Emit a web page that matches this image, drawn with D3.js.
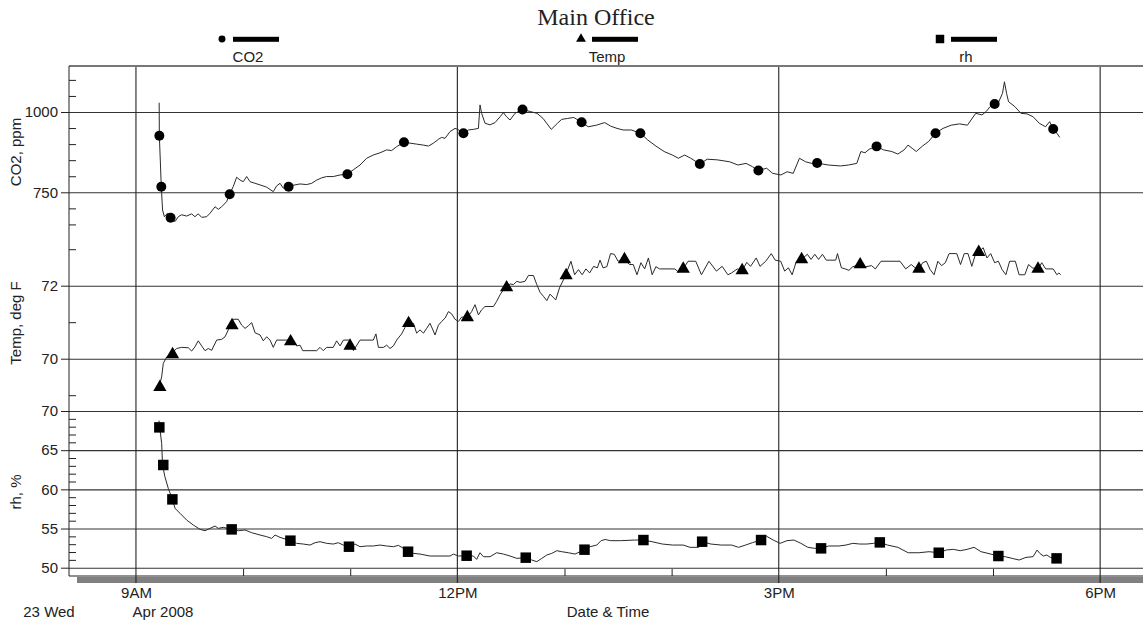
<!DOCTYPE html>
<html><head><meta charset="utf-8">
<script src="https://cdn.jsdelivr.net/npm/d3@7"></script>
<style>
html,body{margin:0;padding:0;background:#fff;}
svg{display:block;}
text{font-family:"Liberation Sans",Arial,sans-serif;fill:#222;}
</style></head>
<body>
<svg id="c" width="1143" height="621"></svg>
<script>
// ---- data (time = minutes after 9:00 AM, 23 Apr 2008) ----
const title = "Main Office";
const seriesNames = ["CO2", "Temp", "rh"];
const axisTitles = ["CO2, ppm", "Temp, deg F", "rh, %"];
const xTickHours = [9, 12, 15, 18];
const xTickLabels = ["9AM", "12PM", "3PM", "6PM"];
const xMinorHours = [10, 11, 13, 14, 16, 17];
const dateLabels = ["23 Wed", "Apr 2008", "Date & Time"];
const co2Ticks = [750, 1000];
const co2Minor = [650, 700, 800, 850, 900, 950, 1050, 1100];
const tempTicks = [70, 72];
const tempMinor = [69, 71, 73];
const rhTicks = [50, 55, 60, 65, 70];
const rhMinor = [51,52,53,54,56,57,58,59,61,62,63,64,66,67,68,69];

const co2Line = [[13.0,1029],[13.1,926],[14.2,767],[14.9,695],[15.9,674],[17.7,685],[19.4,671],[21.9,659],[23.7,674],[25.6,680],[28.4,676],[31.2,683],[33.0,674],[34.9,683],[36.8,672],[39.6,674],[41.5,685],[44.3,705],[46.1,697],[48.0,705],[50.8,721],[52.5,744],[54.5,768],[56.4,797],[58.3,788],[60.1,783],[62.0,799],[63.9,783],[66.7,778],[69.5,773],[73.2,766],[76.9,752],[78.8,770],[80.7,778],[82.5,763],[85.5,767],[88.1,772],[91.9,776],[95.6,774],[98.4,778],[101.2,788],[104.0,795],[106.8,799],[110.5,799],[114.3,804],[118.4,806],[121.7,820],[125.5,835],[129.2,856],[132.9,866],[136.7,873],[140.4,882],[143.2,880],[146.0,892],[150.1,906],[153.5,903],[157.2,900],[160.9,897],[163.8,894],[166.6,903],[169.4,915],[171.2,921],[173.1,918],[175.9,939],[178.7,949],[180.2,946],[183.4,934],[186.2,944],[189.0,946],[191.8,949],[192.7,1022],[193.6,996],[195.5,965],[198.3,960],[201.1,967],[203.9,985],[205.8,998],[207.6,985],[209.5,975],[212.3,996],[216.5,1008],[221.1,1001],[224.6,996],[228.0,980],[232.6,946],[236.1,965],[238.4,977],[241.8,980],[245.2,983],[249.6,968],[253.3,954],[257.9,959],[262.5,967],[265.9,956],[269.4,949],[272.8,944],[277.4,944],[282.5,934],[286.6,913],[291.2,894],[295.8,877],[300.4,866],[303.8,856],[307.3,866],[310.7,856],[315.8,838],[319.9,853],[325.6,851],[332.5,845],[337.1,835],[341.7,840],[345.2,830],[348.6,818],[353.2,825],[356.6,809],[361.2,804],[364.7,814],[368.1,809],[371.6,856],[375.0,845],[378.5,840],[381.5,841],[387.7,835],[394.5,832],[399.1,835],[403.7,840],[406.0,877],[408.3,873],[410.6,884],[414.8,893],[418.7,882],[423.3,877],[426.7,869],[430.2,882],[432.4,897],[434.7,887],[437.0,877],[440.5,894],[443.9,908],[447.8,934],[452.0,949],[456.6,959],[461.2,963],[465.7,959],[470.3,996],[473.8,991],[476.1,1001],[478.4,1017],[480.9,1025],[483.0,1029],[485.3,1058],[486.4,1094],[487.6,1058],[488.7,1032],[492.2,1017],[495.6,996],[499.1,994],[502.5,985],[505.9,965],[509.4,954],[511.7,970],[513.7,947],[515.1,939],[517.4,921]];
const co2Marks = [[13.1,926],[14.2,767],[19.4,671],[52.5,744],[85.5,767],[118.4,806],[150.1,906],[183.4,934],[216.5,1008],[249.6,968],[282.5,934],[315.8,838],[348.6,818],[381.5,841],[414.8,893],[447.8,934],[480.9,1025],[513.7,947]];

const tempLine = [[13.4,69.32],[14.4,69.50],[15.3,69.87],[17.2,70.05],[20.0,70.14],[22.8,70.28],[25.6,70.31],[29.3,70.30],[31.2,70.21],[33.1,70.33],[34.9,70.49],[36.8,70.35],[38.7,70.22],[40.5,70.28],[42.4,70.23],[45.2,70.51],[48.0,70.53],[49.9,70.60],[51.7,70.79],[54.5,71.08],[57.3,71.08],[59.2,70.92],[61.1,70.83],[62.9,70.90],[64.8,70.99],[66.7,70.71],[69.5,70.65],[71.3,70.49],[73.2,70.60],[75.1,70.51],[76.9,70.31],[78.8,70.51],[84.4,70.51],[88.1,70.51],[90.0,70.35],[91.9,70.37],[93.4,70.22],[101.2,70.22],[103.1,70.31],[104.9,70.22],[106.8,70.31],[110.5,70.31],[112.4,70.49],[114.3,70.35],[116.2,70.51],[119.9,70.51],[121.8,70.22],[125.5,70.51],[132.9,70.51],[134.4,70.68],[135.8,70.31],[138.6,70.31],[140.4,70.37],[142.3,70.28],[144.2,70.35],[146.0,70.51],[148.8,70.68],[150.7,70.86],[152.7,70.97],[155.4,70.97],[157.2,70.70],[159.1,70.79],[161.0,70.70],[162.8,70.83],[164.7,70.97],[167.5,70.65],[169.4,70.92],[171.2,71.02],[173.1,71.11],[175.0,71.29],[176.8,71.23],[178.7,71.08],[180.6,71.02],[182.4,71.14],[185.6,71.13],[188.0,71.29],[189.9,71.48],[191.8,71.20],[193.6,71.34],[195.5,71.43],[200.2,71.43],[202.0,71.57],[203.9,71.75],[205.8,71.89],[207.6,71.95],[209.5,72.05],[211.4,72.03],[213.3,72.12],[215.1,72.09],[217.9,72.12],[219.8,72.28],[222.6,72.28],[224.5,72.03],[226.3,71.82],[228.2,71.71],[230.1,71.59],[231.9,71.77],[235.1,71.61],[237.2,71.94],[240.4,72.26],[243.6,72.67],[245.7,72.30],[247.8,72.44],[249.9,72.30],[252.0,72.46],[254.1,72.35],[256.3,72.53],[258.4,72.49],[259.9,72.70],[261.6,72.49],[263.7,72.52],[265.8,72.88],[267.9,72.86],[270.0,72.67],[273.6,72.72],[276.4,72.58],[278.5,72.58],[280.6,72.30],[282.8,72.63],[284.9,72.46],[287.0,72.76],[289.1,72.30],[291.2,72.52],[293.3,72.46],[301.8,72.46],[303.9,72.37],[306.5,72.46],[309.2,72.67],[313.5,72.67],[316.7,72.30],[320.9,72.67],[325.1,72.40],[328.3,72.53],[331.5,72.30],[333.6,72.35],[336.8,72.46],[339.5,72.42],[342.1,72.64],[344.2,72.53],[347.4,72.76],[349.5,72.53],[352.7,72.67],[355.8,72.88],[358.0,72.70],[361.1,72.67],[363.3,72.40],[365.4,72.49],[367.5,72.30],[369.6,72.63],[372.8,72.72],[376.0,72.86],[378.1,72.72],[380.2,72.86],[382.3,72.72],[384.5,72.86],[386.6,72.70],[391.9,72.70],[392.9,72.88],[395.1,72.49],[397.2,72.46],[399.3,72.42],[401.4,72.52],[405.6,72.58],[408.8,72.52],[412.0,72.55],[414.1,72.46],[417.3,72.67],[427.9,72.67],[431.1,72.46],[434.2,72.58],[436.4,72.49],[438.5,72.46],[440.6,72.63],[442.7,72.67],[444.8,72.44],[447.0,72.30],[449.1,72.67],[451.2,72.55],[453.3,72.63],[455.4,72.88],[459.7,72.88],[461.8,72.58],[463.9,72.88],[466.0,72.88],[468.1,72.53],[470.3,72.88],[471.9,72.92],[474.5,73.04],[476.6,72.76],[478.7,72.88],[480.9,72.63],[483.0,72.67],[485.1,72.44],[487.2,72.30],[489.3,72.67],[492.5,72.67],[494.6,72.30],[497.8,72.30],[499.9,72.58],[502.0,72.49],[505.2,72.46],[507.3,72.63],[509.5,72.46],[513.7,72.46],[515.8,72.30],[516.9,72.35],[517.9,72.30]];
const tempMarks = [[13.4,69.22],[20.5,70.12],[53.8,70.91],[86.6,70.47],[119.9,70.35],[152.7,70.97],[185.6,71.13],[207.6,71.95],[240.9,72.28],[273.6,72.72],[306.5,72.46],[339.5,72.42],[372.8,72.72],[405.6,72.58],[438.5,72.46],[472.0,72.92],[505.2,72.46]];

const rhLine = [[12.9,68.77],[13.3,67.91],[14.4,65.87],[14.9,63.11],[16.2,61.62],[18.1,60.13],[20.4,58.72],[21.9,57.57],[24.7,56.94],[28.4,56.08],[32.1,55.45],[35.9,54.89],[38.7,54.72],[41.5,55.02],[44.3,55.32],[46.1,55.02],[48.9,55.15],[53.6,54.89],[57.3,54.72],[61.1,54.81],[64.8,54.47],[69.5,54.17],[73.2,53.96],[76.0,53.74],[77.9,54.17],[80.7,53.87],[86.5,53.45],[90.0,53.11],[93.7,53.02],[97.5,52.89],[100.3,53.19],[103.1,53.32],[106.8,53.11],[110.5,53.02],[113.3,53.19],[116.1,52.89],[119.3,52.68],[122.7,53.02],[125.5,52.68],[129.2,52.77],[132.9,52.77],[136.7,52.89],[140.4,52.77],[144.2,52.68],[147.0,52.85],[149.8,52.47],[152.4,52.04],[155.4,51.83],[159.1,51.74],[164.7,51.49],[170.3,51.49],[175.9,51.49],[177.8,51.74],[180.6,51.49],[185.2,51.53],[189.0,51.49],[190.8,51.06],[192.7,51.91],[194.6,51.40],[198.3,51.40],[202.0,51.91],[205.8,51.74],[209.5,51.49],[213.3,51.19],[218.3,51.28],[221.7,50.98],[224.5,50.77],[227.3,51.19],[230.1,51.62],[232.9,51.83],[235.7,52.17],[238.5,52.04],[242.2,51.91],[245.9,51.74],[251.2,52.30],[254.3,52.68],[258.1,52.89],[260.5,53.45],[262.8,53.60],[265.7,53.45],[271.5,53.45],[279.3,53.53],[284.2,53.53],[289.0,53.32],[294.8,53.02],[300.6,52.89],[306.5,52.89],[310.3,52.60],[315.2,52.60],[317.1,53.32],[322.0,53.02],[327.8,52.89],[333.6,52.89],[337.5,52.60],[341.4,52.89],[345.2,53.19],[350.1,53.53],[353.0,54.04],[356.9,53.53],[360.8,53.11],[364.6,53.45],[368.5,53.53],[372.4,53.11],[376.3,52.60],[380.2,52.47],[383.7,52.47],[387.9,52.77],[393.7,52.77],[397.6,52.89],[401.5,53.11],[405.4,53.02],[409.3,53.02],[413.1,53.11],[416.6,53.23],[420.9,52.89],[426.7,52.60],[432.5,51.91],[438.4,51.91],[444.2,52.04],[449.6,51.91],[453.9,52.26],[457.8,52.34],[461.6,52.17],[465.5,52.34],[469.4,52.60],[473.3,52.04],[477.2,51.83],[483.0,51.49],[486.9,51.40],[490.7,51.19],[494.6,50.98],[498.5,51.32],[502.4,51.40],[504.7,52.26],[506.2,51.83],[508.2,51.49],[510.1,51.62],[512.1,51.32],[515.6,51.19],[516.9,50.98]];
const rhMarks = [[13.1,67.91],[15.3,63.11],[20.4,58.72],[53.6,54.89],[86.5,53.45],[119.3,52.68],[152.4,52.04],[185.2,51.53],[218.3,51.28],[251.2,52.30],[284.2,53.53],[317.1,53.32],[350.1,53.53],[383.7,52.47],[416.6,53.23],[449.6,51.91],[483.0,51.49],[515.6,51.19]];

// ---- scales ----
const base = new Date(2008, 3, 23, 9, 0, 0).getTime();
const tm = m => new Date(base + m * 60000);
const th = h => new Date(2008, 3, 23, h, 0, 0);
const L = 69, R = 1143, TOP = 66, BOT = 576;
const x = d3.scaleTime().domain([new Date(2008,3,23,8,22,30), new Date(2008,3,23,18,24,0)]).range([L, R]);
const yC = d3.scaleLinear().domain([750, 1000]).range([192.3, 112]);
const yT = d3.scaleLinear().domain([70, 72]).range([358.7, 285.7]);
const yH = d3.scaleLinear().domain([50, 70]).range([567.7, 411]);

const svg = d3.select("#c");
const FS = "15px";

// gray shadow bar under x axis
svg.append("rect").attr("x", 77).attr("y", 577).attr("width", R - 77).attr("height", 6).attr("fill", "#808080");

// horizontal gridlines + major ticks + labels
function yAxis(scale, ticks, minor) {
  const g = svg.append("g").attr("transform", `translate(${L},0)`);
  g.call(d3.axisLeft(scale).tickValues(ticks).tickSizeInner(-(R - L)).tickSizeOuter(0).tickPadding(0).tickFormat(""));
  g.select(".domain").remove();
  g.selectAll(".tick line").attr("stroke", "#333").attr("stroke-width", 1.1);
  const g2 = svg.append("g").attr("transform", `translate(${L},0)`);
  g2.call(d3.axisLeft(scale).tickValues(ticks).tickSize(8).tickPadding(3).tickFormat(d3.format("d")));
  g2.select(".domain").remove();
  g2.selectAll(".tick line").attr("stroke", "#222");
  g2.selectAll(".tick text").attr("font-size", FS).attr("fill", "#222").style("font-family", '"Liberation Sans",Arial,sans-serif');
  const g3 = svg.append("g").attr("transform", `translate(${L},0)`);
  g3.call(d3.axisRight(scale).tickValues(minor).tickSize(7).tickFormat(""));
  g3.select(".domain").remove();
  g3.selectAll(".tick line").attr("stroke", "#222");
}
yAxis(yC, co2Ticks, co2Minor);
yAxis(yT, tempTicks, tempMinor);
yAxis(yH, rhTicks, rhMinor);

// vertical gridlines
svg.append("g").selectAll("line").data(xTickHours).join("line")
  .attr("x1", d => x(th(d))).attr("x2", d => x(th(d)))
  .attr("y1", TOP).attr("y2", 583).attr("stroke", "#222").attr("stroke-width", 1.1);

// minor hour ticks
const gm = svg.append("g").attr("transform", `translate(0,${BOT})`);
gm.call(d3.axisTop(x).tickValues(xMinorHours.map(th)).tickSize(7).tickFormat(""));
gm.select(".domain").remove();
gm.selectAll(".tick line").attr("stroke", "#222");

// frame
svg.append("line").attr("x1", L).attr("x2", R).attr("y1", TOP).attr("y2", TOP).attr("stroke", "#777").attr("stroke-width", 2);
svg.append("line").attr("x1", L).attr("x2", L).attr("y1", TOP).attr("y2", BOT).attr("stroke", "#222");
svg.append("line").attr("x1", L).attr("x2", R).attr("y1", BOT).attr("y2", BOT).attr("stroke", "#222");

// x tick labels
const gx = svg.append("g").attr("transform", `translate(0,583)`);
gx.call(d3.axisBottom(x).tickValues(xTickHours.map(th)).tickSize(0).tickPadding(4)
  .tickFormat((d, i) => xTickLabels[i]));
gx.select(".domain").remove();
gx.selectAll(".tick text").attr("font-size", FS).attr("fill", "#222").style("font-family", '"Liberation Sans",Arial,sans-serif');

svg.append("text").attr("x", 49).attr("y", 617).attr("text-anchor", "middle").attr("font-size", FS).text(dateLabels[0]);
svg.append("text").attr("x", 163).attr("y", 617).attr("text-anchor", "middle").attr("font-size", FS).text(dateLabels[1]);
svg.append("text").attr("x", 608).attr("y", 617).attr("text-anchor", "middle").attr("font-size", FS).text(dateLabels[2]);

// axis titles
const titleY = [152, 323, 492];
axisTitles.forEach((t, i) => {
  svg.append("text").attr("transform", `translate(21,${titleY[i]}) rotate(-90)`)
    .attr("text-anchor", "middle").attr("font-size", FS).text(t);
});

// lines
const series = [
  {line: co2Line, marks: co2Marks, y: yC, sym: d3.symbolCircle, size: 78},
  {line: tempLine, marks: tempMarks, y: yT, sym: d3.symbolTriangle, size: 76},
  {line: rhLine, marks: rhMarks, y: yH, sym: d3.symbolSquare, size: 110}
];
series.forEach(s => {
  svg.append("path").datum(s.line)
    .attr("d", d3.line().x(d => x(tm(d[0]))).y(d => s.y(d[1])))
    .attr("fill", "none").attr("stroke", "#2a2a2a").attr("stroke-width", 1);
  svg.append("g").selectAll("path").data(s.marks).join("path")
    .attr("transform", d => `translate(${x(tm(d[0]))},${s.y(d[1])})`)
    .attr("d", d3.symbol().type(s.sym).size(s.size))
    .attr("fill", "#000");
});

// title
svg.append("text").attr("x", 596).attr("y", 25).attr("text-anchor", "middle")
  .style("font-family", '"Liberation Serif","Times New Roman",serif').attr("font-size", "24px").attr("fill", "#111").text(title);

// legend
const legendX = [248, 607, 966];
const legendSyms = [d3.symbolCircle, d3.symbolTriangle, d3.symbolSquare];
const legendSizes = [38, 42, 72];
seriesNames.forEach((n, i) => {
  const cx = legendX[i];
  const g = svg.append("g");
  g.append("path").attr("transform", `translate(${cx - 26},39)`).attr("d", d3.symbol().type(legendSyms[i]).size(legendSizes[i])).attr("fill", "#000");
  g.append("rect").attr("x", cx - 15).attr("y", 36.8).attr("width", 46).attr("height", 5).attr("fill", "#000");
  g.append("text").attr("x", cx).attr("y", 62).attr("text-anchor", "middle").attr("font-size", FS).text(n);
});
</script>
</body></html>
